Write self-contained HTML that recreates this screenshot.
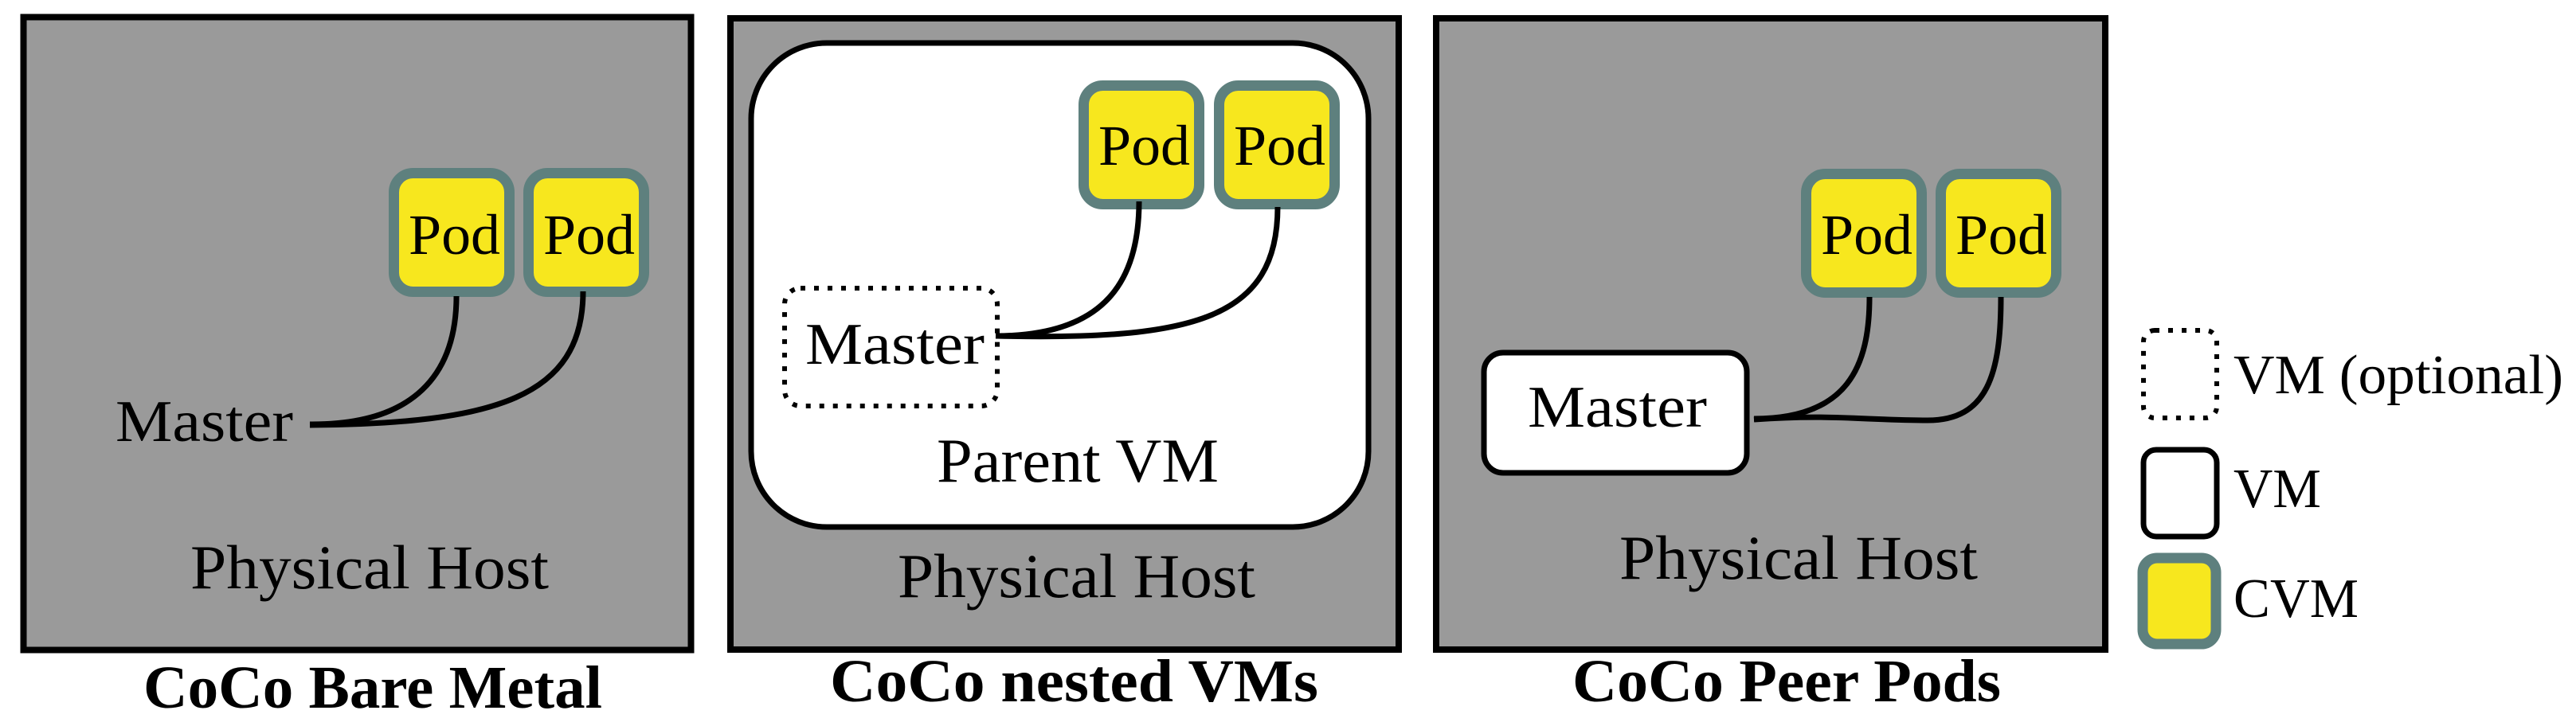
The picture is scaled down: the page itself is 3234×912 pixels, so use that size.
<!DOCTYPE html>
<html><head><meta charset="utf-8"><style>
html,body{margin:0;padding:0;background:#fff;}
svg{display:block;}
text{font-family:"Liberation Serif",serif;fill:#000;}
</style></head><body>
<svg width="3234" height="912" viewBox="0 0 3234 912" xmlns="http://www.w3.org/2000/svg">
<defs>
<g id="pod">
<rect x="6.5" y="6.5" width="145" height="149" rx="24" fill="#f7e71e" stroke="#5e807e" stroke-width="13"/>
</g>
</defs>
<!-- Panel 1 -->
<rect x="29.5" y="21.5" width="838" height="795" fill="#9a9a9a" stroke="#000" stroke-width="8"/>
<use href="#pod" x="488" y="211"/>
<use href="#pod" x="657" y="211"/>
<text x="513" y="319" font-size="72" textLength="115" lengthAdjust="spacingAndGlyphs">Pod</text>
<text x="682" y="319" font-size="72" textLength="115" lengthAdjust="spacingAndGlyphs">Pod</text>
<text x="145" y="554" font-size="74" textLength="223" lengthAdjust="spacingAndGlyphs">Master</text>
<path d="M389,533 C520,534 573,470 573,372" fill="none" stroke="#000" stroke-width="7"/>
<path d="M389,534 C620,532 732,500 732,366" fill="none" stroke="#000" stroke-width="7"/>
<text x="239" y="739" font-size="78" textLength="450" lengthAdjust="spacingAndGlyphs">Physical Host</text>
<text x="180" y="889" font-size="76" font-weight="bold" textLength="576" lengthAdjust="spacingAndGlyphs">CoCo Bare Metal</text>

<!-- Panel 2 -->
<rect x="917" y="23" width="839" height="793" fill="#9a9a9a" stroke="#000" stroke-width="8"/>
<rect x="943" y="54" width="775" height="608" rx="95" fill="#fff" stroke="#000" stroke-width="7"/>
<use href="#pod" x="1354" y="101"/>
<use href="#pod" x="1524" y="101"/>
<text x="1379" y="207" font-size="72" textLength="115" lengthAdjust="spacingAndGlyphs">Pod</text>
<text x="1549" y="207" font-size="72" textLength="115" lengthAdjust="spacingAndGlyphs">Pod</text>
<rect x="985" y="362" width="267" height="148" rx="20" fill="none" stroke="#000" stroke-width="6" stroke-dasharray="6 11"/>
<text x="1011" y="457" font-size="74" textLength="225" lengthAdjust="spacingAndGlyphs">Master</text>
<path d="M1250,422 C1390,422 1430,350 1430,253" fill="none" stroke="#000" stroke-width="7"/>
<path d="M1250,422 C1500,428 1604,400 1604,260" fill="none" stroke="#000" stroke-width="7"/>
<text x="1176" y="605" font-size="78" textLength="354" lengthAdjust="spacingAndGlyphs">Parent VM</text>
<text x="1127" y="750" font-size="78" textLength="449" lengthAdjust="spacingAndGlyphs">Physical Host</text>
<text x="1042" y="881" font-size="76" font-weight="bold" textLength="613" lengthAdjust="spacingAndGlyphs">CoCo nested VMs</text>

<!-- Panel 3 -->
<rect x="1803" y="23" width="840" height="793" fill="#9a9a9a" stroke="#000" stroke-width="8"/>
<use href="#pod" x="2261" y="212"/>
<use href="#pod" x="2430" y="212"/>
<text x="2286" y="319" font-size="72" textLength="115" lengthAdjust="spacingAndGlyphs">Pod</text>
<text x="2455" y="319" font-size="72" textLength="115" lengthAdjust="spacingAndGlyphs">Pod</text>
<rect x="1863" y="443" width="330" height="151" rx="24" fill="#fff" stroke="#000" stroke-width="7"/>
<text x="1918" y="536" font-size="74" textLength="225" lengthAdjust="spacingAndGlyphs">Master</text>
<path d="M2202,526 C2320,526 2347,460 2347,373" fill="none" stroke="#000" stroke-width="7"/>
<path d="M2202,527 C2300,520 2340,528 2420,528 C2495,528 2512,470 2512,373" fill="none" stroke="#000" stroke-width="7"/>
<text x="2033" y="727" font-size="78" textLength="450" lengthAdjust="spacingAndGlyphs">Physical Host</text>
<text x="1974" y="881" font-size="76" font-weight="bold" textLength="538" lengthAdjust="spacingAndGlyphs">CoCo Peer Pods</text>

<!-- Legend -->
<rect x="2691" y="415" width="92" height="110" rx="14" fill="none" stroke="#000" stroke-width="6" stroke-dasharray="6 11"/>
<text x="2804" y="494" font-size="70" textLength="414" lengthAdjust="spacingAndGlyphs">VM (optional)</text>
<rect x="2691" y="565" width="92" height="109" rx="16" fill="#fff" stroke="#000" stroke-width="7"/>
<text x="2804" y="637" font-size="70" textLength="110" lengthAdjust="spacingAndGlyphs">VM</text>
<rect x="2690" y="701" width="92" height="108" rx="18" fill="#f7e71e" stroke="#5e807e" stroke-width="13"/>
<text x="2804" y="775" font-size="70" textLength="157" lengthAdjust="spacingAndGlyphs">CVM</text>
</svg>
</body></html>
